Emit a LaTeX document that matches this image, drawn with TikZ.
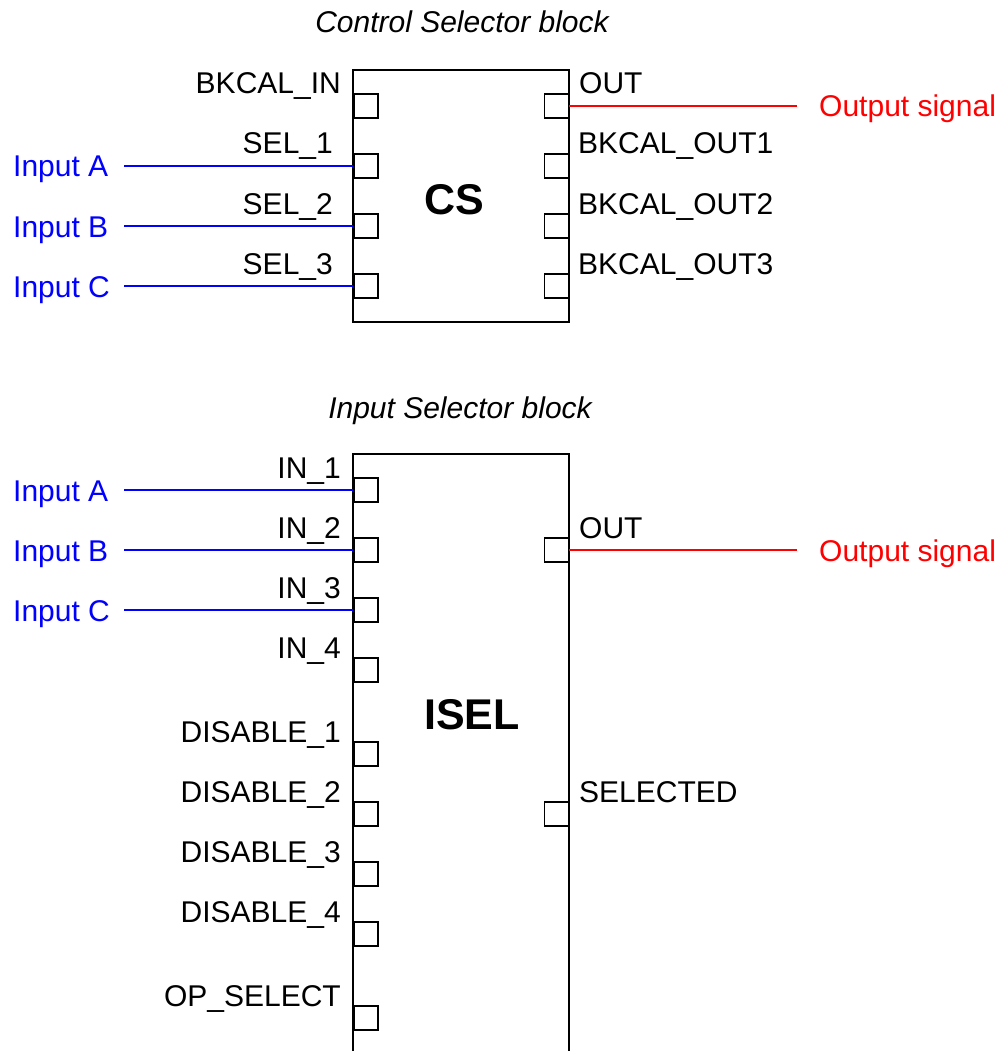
\documentclass[tikz,border=0pt]{standalone}
\usepackage{fontspec}
\setmainfont{Liberation Sans}
\begin{document}
\begin{tikzpicture}[x=1pt,y=-1pt,
  lbl/.style={inner sep=0pt,font=\fontsize{30}{36}\selectfont},
  lblL/.style={lbl,anchor=base east},
  lblR/.style={lbl,anchor=base west},
  ttl/.style={inner sep=0pt,anchor=base,font=\fontsize{30}{36}\selectfont\itshape},
  big/.style={inner sep=0pt,anchor=base,font=\fontsize{43}{50}\selectfont\bfseries},
  port/.style={draw,line width=1.5pt,rectangle,minimum width=24pt,minimum height=24pt,inner sep=0pt},
  blk/.style={draw,line width=2pt,rectangle,minimum width=216pt,inner sep=0pt},
  insig/.style={draw=blue,line width=1.5pt},
  outsig/.style={draw=red,line width=1.5pt},
  inlbl/.style={lbl,anchor=base west,text=blue},
  outlbl/.style={lbl,anchor=base west,text=red}]
\path[use as bounding box] (0,0) rectangle (1000,1051);
\clip (0,0) rectangle (1000,1051);

% ---------- Control Selector ----------
\node[ttl] (t1) at (462,33) {Control Selector block};
\node[blk,minimum height=252pt] (cs) at (461,196) {};
\node[big] (csname) at (454,214) {CS};

\foreach \n/\y in {a/106,b/166,c/226,d/286}{
  \node[port,anchor=west] (csL\n) at (353,\y) {};
  \node[port,anchor=east] (csR\n) at (569,\y) {};
}
\node[lblL] (l1) at (341,94) {BKCAL\_IN};
\node[lblL] (l2) at (333,154) {SEL\_1};
\node[lblL] (l3) at (333,214) {SEL\_2};
\node[lblL] (l4) at (333,274) {SEL\_3};
\node[lblR] (r1) at (579,94) {OUT};
\node[lblR] (r2) at (578,154) {BKCAL\_OUT1};
\node[lblR] (r3) at (578,214) {BKCAL\_OUT2};
\node[lblR] (r4) at (578,274) {BKCAL\_OUT3};

\node[inlbl] (csA) at (13,177) {Input A};
\node[inlbl] (csB) at (13,237) {Input B};
\node[inlbl] (csC) at (13,297) {Input C};
\node[outlbl] (csO) at (819,117) {Output signal};

\draw[insig] ([xshift=16pt]csA.base east |- csLb) -- (csLb.west);
\draw[insig] ([xshift=16pt]csA.base east |- csLc) -- (csLc.west);
\draw[insig] ([xshift=16pt]csA.base east |- csLd) -- (csLd.west);
\draw[outsig] (csRa.east) -- ([xshift=-22pt]csO.base west |- csRa);

% ---------- Input Selector ----------
\node[ttl] (t2) at (460,418) {Input Selector block};
\node[blk,minimum height=646pt] (isel) at (461,777) {};
\node[big] (iselname) at (472,729) {ISEL};

\foreach \n/\y/\t in {a/490/IN\_1,b/550/IN\_2,c/610/IN\_3,d/670/IN\_4,
                      e/754/DISABLE\_1,f/814/DISABLE\_2,g/874/DISABLE\_3,
                      h/934/DISABLE\_4,i/1018/OP\_SELECT}{
  \node[port,anchor=west] (isL\n) at (353,\y) {};
  \node[lblL] (isT\n) at (341,\y-12) {\t};
}
\node[port,anchor=east] (isRa) at (569,550) {};
\node[port,anchor=east] (isRb) at (569,814) {};
\node[lblR] (isTo) at (579,538) {OUT};
\node[lblR] (isTs) at (579,802) {SELECTED};

\node[inlbl] (isA) at (13,501) {Input A};
\node[inlbl] (isB) at (13,561) {Input B};
\node[inlbl] (isC) at (13,621) {Input C};
\node[outlbl] (isO) at (819,561) {Output signal};

\draw[insig] ([xshift=16pt]isA.base east |- isLa) -- (isLa.west);
\draw[insig] ([xshift=16pt]isA.base east |- isLb) -- (isLb.west);
\draw[insig] ([xshift=16pt]isA.base east |- isLc) -- (isLc.west);
\draw[outsig] (isRa.east) -- ([xshift=-22pt]isO.base west |- isRa);
\end{tikzpicture}
\end{document}
